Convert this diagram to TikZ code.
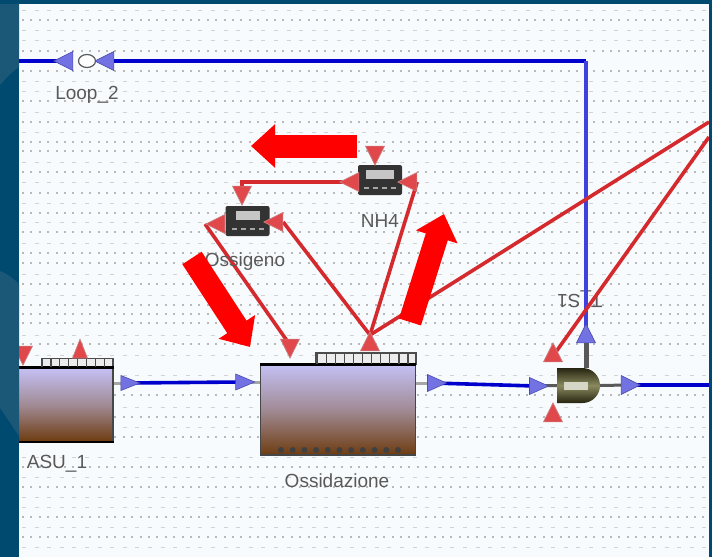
\documentclass[tikz,border=0pt]{standalone}
\usepackage{fontspec}
\setmainfont{Liberation Sans}
\usetikzlibrary{
  positioning, backgrounds, shapes.geometric, shapes.misc, arrows, arrows.meta
}
\definecolor{framedark}{HTML}{004A70}
\definecolor{framelight}{HTML}{1B5878}
\definecolor{canvasbg}{HTML}{F8FBFD}
\definecolor{wireblue}{HTML}{0000CC}
\definecolor{wirelight}{HTML}{4040DD}
\definecolor{wirered}{HTML}{D42A2E}
\definecolor{portred}{HTML}{E0484C}
\definecolor{portblue}{HTML}{7272E2}
\definecolor{tankviolet}{HTML}{C4C0F4}
\definecolor{tankbrown}{HTML}{6E3C10}
\definecolor{tankmid}{HTML}{A08A94}
\definecolor{splitdark}{HTML}{26240F}
\definecolor{splitmid}{HTML}{8A8A60}
\tikzset{
	redtri/.style={isosceles triangle, isosceles triangle stretches, inner sep=0pt,
		minimum width=19pt, minimum height=19pt, fill=portred, draw=gray!60!red!70, line width=0.6pt},
	bluetri/.style={redtri, fill=portblue, draw=blue!40!gray}
}
\tikzset{
	tankbox/.style={rectangle, inner sep=0pt, draw=gray!55!black, line width=1.4pt,
		top color=tankviolet, bottom color=tankbrown, middle color=tankmid},
	topbar/.style={rectangle, inner sep=0pt, draw=black!70, line width=1.2pt, fill=white!85!gray},
	sensorbox/.style={rectangle, rounded corners=2pt, inner sep=0pt, minimum width=44pt, minimum height=30pt, fill=black!80},
	sensordisp/.style={rectangle, inner sep=0pt, minimum width=28pt, minimum height=9pt, fill=gray!45}
}
\tikzset{
	graylabel/.style={font=\fontsize{19}{22}\selectfont, text=black!65, inner sep=0pt},
	bluewire/.style={wireblue, line width=3.6pt},
	redwire/.style={wirered, line width=3.6pt},
	stubwire/.style={black!65, line width=3pt},
	bigarrow/.style={red, line width=23pt, -{Triangle[length=24pt,width=42pt]}}
}
\begin{document}
\begin{tikzpicture}[>=stealth, x=1pt, y=-1pt]
  \useasboundingbox (0,0) rectangle (712,557);
  % canvas with its dotted rows
  \begin{pgfonlayer}{background}
    \fill[canvasbg] (0,0) rectangle (712,557);
    \foreach \yy in {20,51,71,101,122,142,151,172,193,213,232,253,263,284,305,314,323,344,395,417,437,467,487,517,537} {
      \draw[gray!55, line width=1.6pt, dash pattern=on 2pt off 6.4pt] (22,\yy) -- (709,\yy);
    }
    \foreach \yy in {10,30,40,81,91,112,132,162,182,203,222,243,274,295,335,355,375,407,427,457,477,497,507,527,547} {
      \draw[gray!35, line width=1pt, dash pattern=on 4pt off 8.6pt] (22,\yy) -- (709,\yy);
    }
    \node[graylabel, rotate=180] (tslabel) at (580,299) {T\_S1};
  \end{pgfonlayer}

  % loop
  \node[bluetri, shape border rotate=180] (looptria) at (67,61) {};
  \node[bluetri, shape border rotate=180] (looptrib) at (108,61) {};
  \node[ellipse, draw=gray!70!black, line width=1.2pt, fill=white, inner sep=0pt, minimum width=17pt, minimum height=13pt] (loopring) at (87,61) {};
  \node[graylabel] (looplabel) at (87,95) {Loop\_2};
  \coordinate (loopend) at (19,61);
  \coordinate (loopcorner) at (586,61);

  % tanks
  \node[tankbox, minimum width=100pt, minimum height=73pt] (asu) at (63,405) {};
  \node[tankbox, minimum width=155pt, minimum height=90pt] (ossid) at (338,410) {};
  \node[topbar, minimum width=71pt, minimum height=9pt] (asubar) at (77.5,363) {};
  \node[topbar, minimum width=100pt, minimum height=11pt] (ossidbar) at (366,358.5) {};
  \draw[black, line width=3pt] (asu.north west) -- (asu.north east);
  \draw[black, line width=3pt] (ossid.north west) -- (ossid.north east);
  \draw[black, line width=2.5pt] (asu.south west) -- (asu.south east);
  \foreach \x in {0,...,7} {
    \draw[black!70, line width=1.2pt] (42+8.9*\x,358) -- ++(0,9);
  }
  \foreach \x in {0,...,10} {
    \draw[black!70, line width=1.2pt] (317+9.1*\x,353) -- ++(0,11);
    \fill[black!75] (281+11.7*\x,450) circle (3pt);
  }
  \node[graylabel] (asulabel) at (57,464) {ASU\_1};
  \node[graylabel] (ossidlabel) at (337,481) {Ossidazione};

  % ports on the tanks
  \node[redtri, shape border rotate=270] (asuport) at (23,352) {};
  \node[redtri, shape border rotate=90, minimum width=15pt] (asuportb) at (80,353) {};
  \node[bluetri, minimum width=15pt] (asuout) at (126,383) {};
  \node[bluetri, minimum width=16pt] (ossidin) at (241,382) {};
  \node[bluetri, minimum width=17pt] (ossidout) at (433,383) {};
  \node[redtri, shape border rotate=270] (ossidport) at (290,345) {};
  \node[redtri, shape border rotate=90] (ossidapex) at (370,345) {};

  % sensors
  \node[sensorbox] (oxybox) at (247.5,221) {};
  \node[sensordisp, minimum width=24pt] (oxydisp) at (247.5,215) {};
  \node[sensorbox] (nhbox) at (380,180) {};
  \node[sensordisp] (nhdisp) at (380,174) {};
  \foreach \s in {oxybox,nhbox} {
    \draw[gray!70, line width=1.4pt, dash pattern=on 5pt off 4pt] ([xshift=-16pt,yshift=-8pt]\s.center) -- ([xshift=16pt,yshift=-8pt]\s.center);
  }
  \node[redtri, shape border rotate=180] (oxyleft) at (219,224) {};
  \node[redtri, shape border rotate=180] (oxyright) at (277,222) {};
  \node[redtri, shape border rotate=270] (oxytop) at (242,192) {};
  \node[redtri, shape border rotate=180] (nhleft) at (353,182) {};
  \node[redtri, shape border rotate=180] (nhright) at (411,182) {};
  \node[redtri, shape border rotate=270] (nhtop) at (375,152) {};
  \node[graylabel] (oxylabel) at (245,262) {Ossigeno};
  \node[graylabel] (nhlabel) at (380,221) {NH4};

  % splitter
  \node[rounded rectangle, rounded rectangle left arc=none, inner sep=0pt, minimum width=43pt, minimum height=35pt,
    top color=splitdark, bottom color=splitdark, middle color=splitmid] (split) at (578.5,385.5) {};
  \node[rectangle, inner sep=0pt, minimum width=24pt, minimum height=8pt, fill=white!65!splitmid] (splitlight) at (576,386) {};
  \node[bluetri, minimum width=17pt] (splitin) at (535,386) {};
  \node[bluetri, minimum width=19pt] (splitout) at (627,385) {};
  \node[bluetri, shape border rotate=90] (splitup) at (586,337) {};
  \node[redtri, shape border rotate=90] (splitport) at (553,356) {};
  \node[redtri, shape border rotate=90] (splitportb) at (553,416) {};

  \coordinate (rightend) at (709,385);
  \coordinate (fanjoin) at (370,335);
  \coordinate (rightupper) at (709,122);
  \coordinate (rightlower) at (709,137);
  \coordinate (oxycorner) at (242,182);

  % connectors stay under the ports
  \begin{pgfonlayer}{background}
    \draw[bluewire] (looptria.center) -- (loopend);
    \draw[bluewire] (looptrib.center) -- (loopcorner);
    \draw[wirelight, line width=3.6pt] (loopcorner) -- (splitup.center);
    \draw[bluewire] (asuout.center) -- (ossidin.center);
    \draw[bluewire] (ossidout.center) -- (splitin.center);
    \draw[bluewire] (splitout.center) -- (rightend);
    \draw[redwire] (nhleft.center) -- (oxycorner) -- (oxytop.center);
    \draw[redwire] (oxyleft.west) -- (ossidport.center);
    \draw[redwire] (oxyright.east) -- (fanjoin);
    \draw[redwire] (nhright.east) -- (fanjoin);
    \draw[redwire] (fanjoin) -- (ossidapex.center);
    \draw[redwire] (fanjoin) -- (rightupper);
    \draw[redwire] (splitport.center) -- (rightlower);
    \draw[stubwire] (splitin.center) -- (split.west);
    \draw[stubwire] (split.east) -- (splitout.center);
    \draw[stubwire, line width=5pt] (split.north -| splitup) -- (splitup.center);
    \draw[stubwire, gray!70] (ossidin.center) -- (ossid.west |- ossidin.center);
    \draw[stubwire, gray!70] (ossid.east |- ossidout.center) -- (ossidout.center);
    \draw[stubwire, gray!70] (asu.east |- asuout.center) -- (asuout.center);
  \end{pgfonlayer}

  % big arrows
  \coordinate (arrowatail) at (357,146);
  \coordinate (arrowahead) at (251,146);
  \coordinate (arrowbtail) at (192,258);
  \coordinate (arrowbhead) at (250,347);
  \coordinate (arrowctail) at (410,322);
  \coordinate (arrowchead) at (444,214);
  \draw[bigarrow] (arrowatail) -- (arrowahead);
  \draw[bigarrow] (arrowbtail) -- (arrowbhead);
  \draw[bigarrow] (arrowctail) -- (arrowchead);

  % window frame
  \fill[framedark] (0,0) rectangle (19,557);
  \fill[framelight] (0,0) -- (19,0) -- (19,67) .. controls (12,72) and (6,78) .. (0,85) -- cycle;
  \fill[framelight] (0,271) .. controls (8,274) and (14,279) .. (19,284) -- (19,436) .. controls (12,426) and (6,416) .. (0,408) -- cycle;
  \fill[framedark] (0,0) rectangle (712,4);
  \fill[framedark] (709,0) rectangle (712,557);
\end{tikzpicture}
\end{document}
